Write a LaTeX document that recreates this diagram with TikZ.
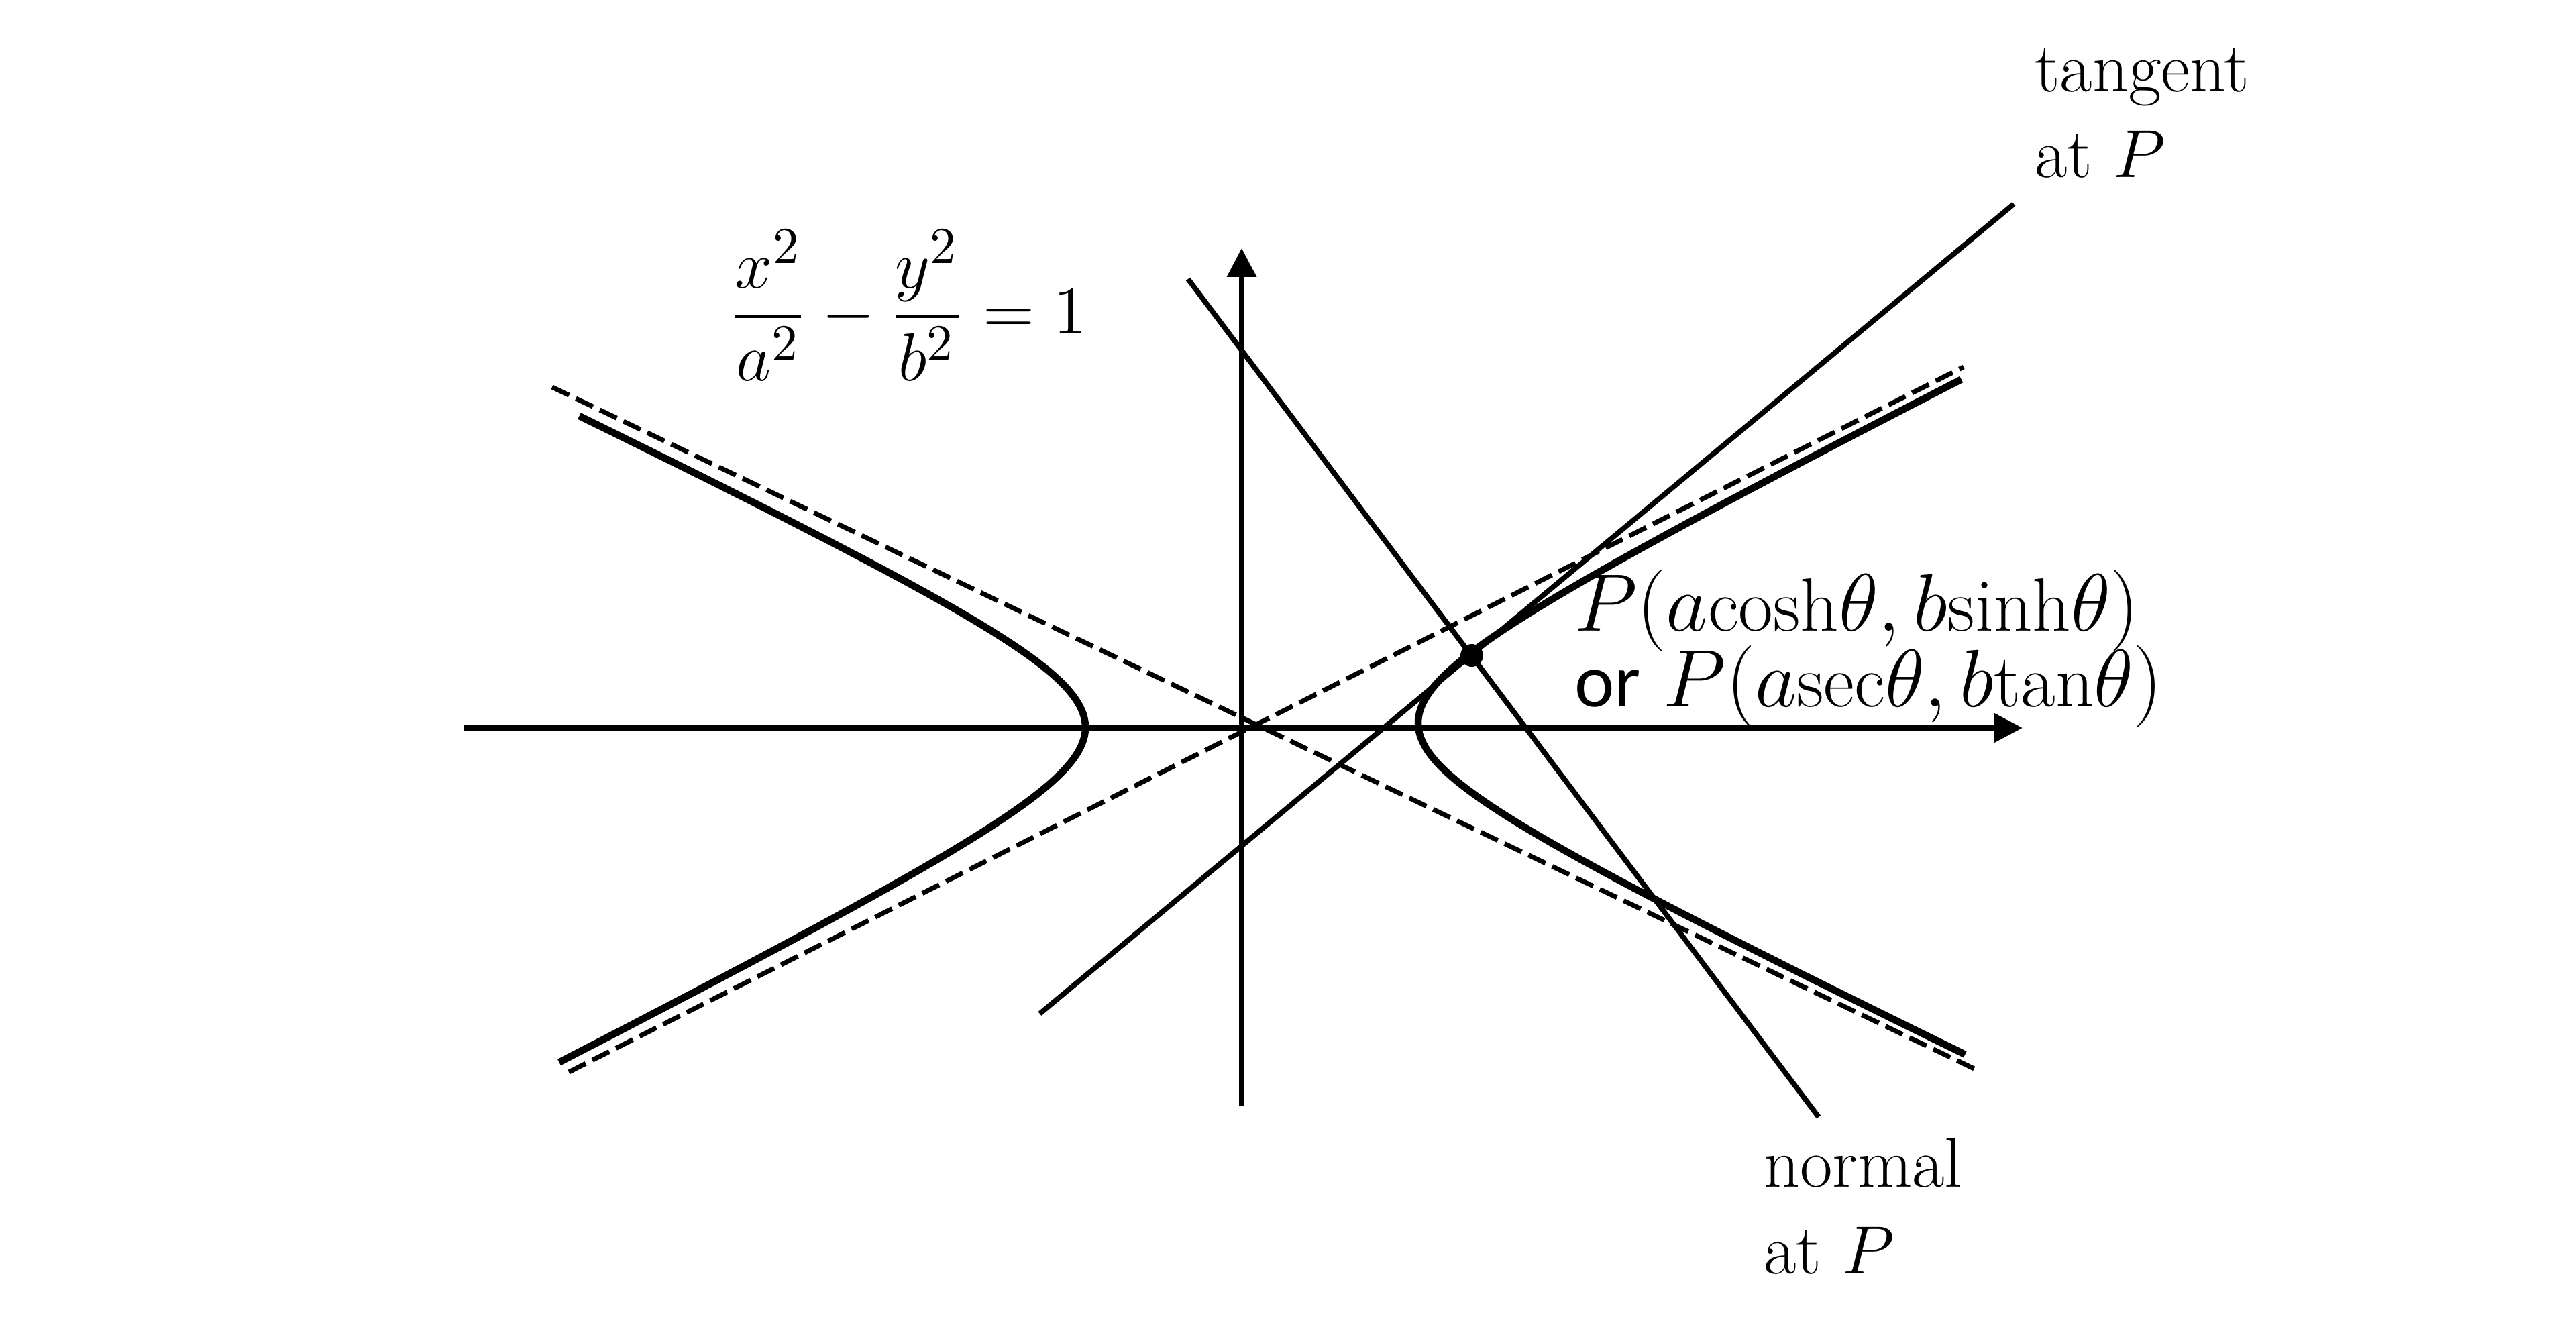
\documentclass[tikz,border=0pt]{standalone}
\usepackage{amsmath}
\usepackage{fontspec}
\newfontfamily\orfont{Carlito}
\usetikzlibrary{arrows.meta}

\begin{document}
\begin{tikzpicture}[x=0.5cm, y=0.5cm,
    axisarrow/.style={-{Triangle[length=6.1pt,width=6.1pt]}, line width=1.05pt},
    branch/.style={line width=1.5pt},
    asym/.style={line width=1pt, dash pattern=on 4pt off 1.6pt},
    lineP/.style={line width=1.1pt},
    txt/.style={font=\fontsize{15}{18.3}\selectfont, inner sep=0pt, align=left}
]
    \useasboundingbox (-18.51,-9.01) rectangle (19.89,10.85);

    % axes
    \coordinate (xl) at (-11.60,0);
    \coordinate (xr) at (11.64,0);
    \coordinate (yb) at (0,-5.63);
    \coordinate (yt) at (0,7.15);
    \draw[axisarrow] (xl) -- (xr);
    \draw[axisarrow] (yb) -- (yt);

    % asymptotes
    \coordinate (a1) at (-10.28,5.08);
    \coordinate (a2) at (10.96,-5.10);
    \coordinate (a3) at (-10.03,-5.13);
    \coordinate (a4) at (10.76,5.38);
    \draw[asym] (a1) -- (a2);
    \draw[asym] (a3) -- (a4);

    % hyperbola
    \begin{scope}[shift={(0.15,0.04)}, rotate=0.6]
        \draw[branch] plot[domain=-2.13:2.135, samples=80, smooth] ({2.48*cosh(\x)},{1.21*sinh(\x)});
        \draw[branch] plot[domain=-2.11:2.07, samples=80, smooth] ({-2.48*cosh(\x)},{1.21*sinh(\x)});
    \end{scope}

    % tangent and normal
    \coordinate (t1) at (-3.01,-4.26);
    \coordinate (t2) at (11.51,7.81);
    \coordinate (n1) at (-0.80,6.69);
    \coordinate (n2) at (8.60,-5.80);
    \draw[lineP] (t1) -- (t2);
    \draw[lineP] (n1) -- (n2);
    \node[circle, fill, inner sep=0pt, minimum size=0.17cm] (P) at (3.43,1.08) {};

    % labels
    \node[txt, anchor=west] (eqn) at (-7.65,6.30) {$\dfrac{x^2}{a^2}-\dfrac{y^2}{b^2}=1$};
    \node[txt, anchor=base west] (tangent) at (11.81,8.20) {tangent\\at $P$};
    \node[txt, anchor=base west] (normal) at (7.77,-8.13) {normal\\at $P$};
    \node[txt, anchor=base west, font={\fontsize{16}{16.2}\selectfont\setlength{\lineskiplimit}{-20pt}}] (coords) at (4.95,0.31)
        {$P(a\mathrm{cosh}\theta, b\mathrm{sinh}\theta)$\\{\orfont or} $P(a\mathrm{sec}\theta, b\mathrm{tan}\theta)$};
\end{tikzpicture}
\end{document}
